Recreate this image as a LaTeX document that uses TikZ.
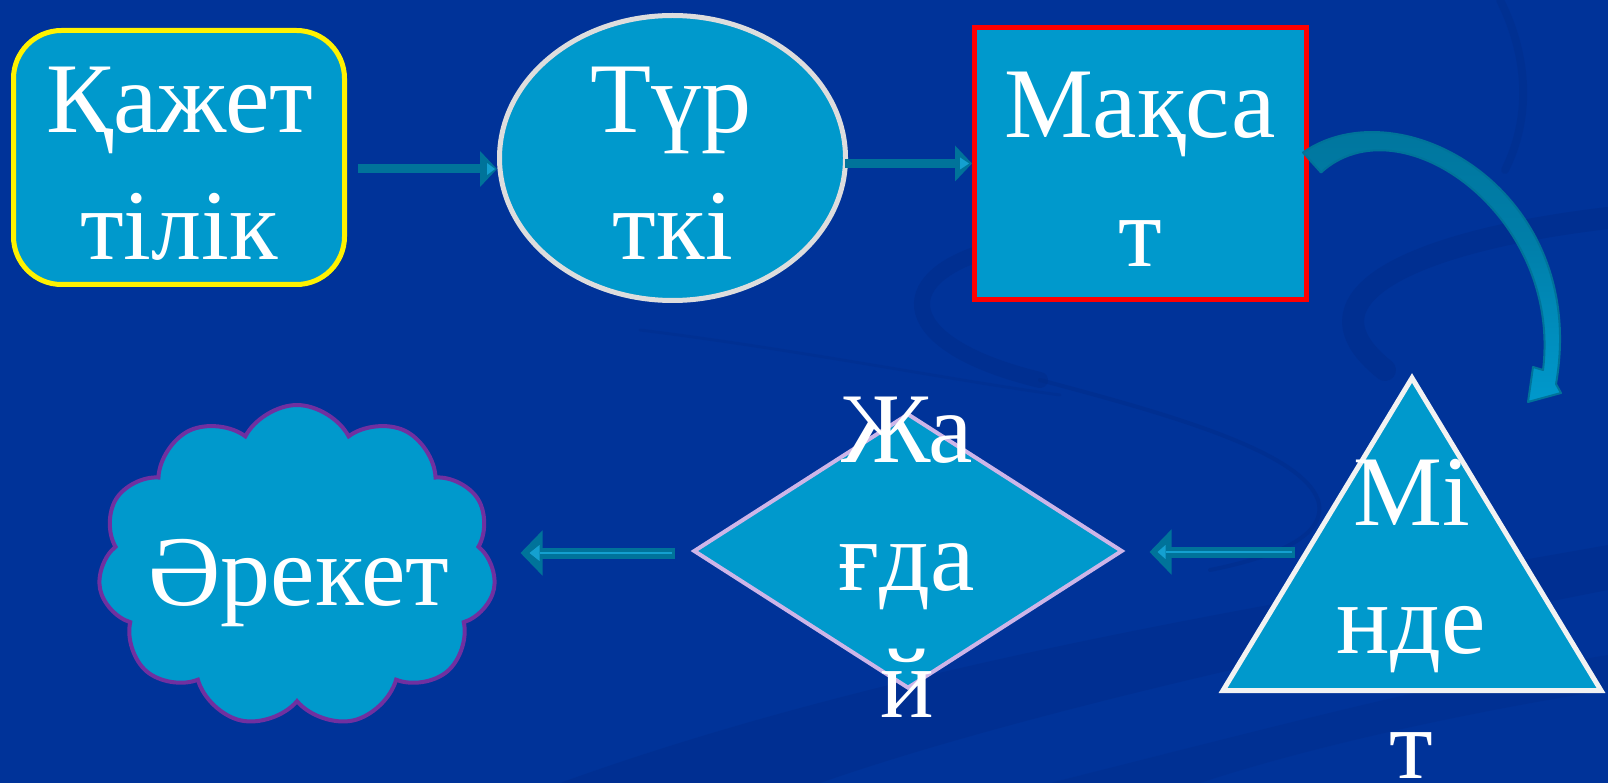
\documentclass[tikz,border=0pt]{standalone}
\usepackage{fontspec}
\setmainfont{Liberation Serif}
\usetikzlibrary{shapes.geometric,shapes.symbols,arrows.meta,calc}
\definecolor{bg}{HTML}{003399}
\definecolor{shp}{HTML}{0099CC}
\definecolor{arr}{HTML}{00739A}
\definecolor{arrl}{HTML}{14A0D0}
\definecolor{swl}{HTML}{002A85}
\definecolor{lav}{HTML}{CDB5E8}
\definecolor{purp}{HTML}{7030A0}
\definecolor{lgray}{HTML}{DDDDDD}
\definecolor{offwhite}{HTML}{F2F2F2}
\begin{document}
\begin{tikzpicture}[x=1pt,y=-1pt,
  shapebox/.style={fill=shp, inner sep=0pt},
  lbl/.style={text=white, font=\fontsize{100}{100}\selectfont, inner sep=0pt, anchor=base},
  swirl/.style={draw=swl, opacity=0.4, line cap=round},
  rightarrow/.style={draw=arr, line width=9pt, -{Triangle[length=17pt,width=35pt]}},
  leftarrow/.style={draw=arr, line width=11pt, -{Triangle[length=22pt,width=44pt]}},
]
\fill[bg] (0,0) rectangle (1608,783);
\useasboundingbox (0,0) rectangle (1608,783);

% background swirls
\fill[swl, opacity=0.35] (560,783) .. controls (900,660) and (1300,600) .. (1608,545) -- (1608,590) .. controls (1300,650) and (1000,720) .. (820,783) -- cycle;
\fill[swl, opacity=0.25] (1050,783) .. controls (1300,720) and (1450,680) .. (1608,655) -- (1608,690) .. controls (1450,715) and (1300,750) .. (1200,783) -- cycle;
\draw[swirl, line width=16pt] (990,250) .. controls (890,278) and (895,345) .. (1040,380);
\draw[swirl, line width=4pt] (1040,380) .. controls (1160,412) and (1300,450) .. (1318,500) .. controls (1330,540) and (1260,560) .. (1210,570);
\draw[swirl, line width=3pt, opacity=0.25] (640,330) .. controls (800,350) and (950,380) .. (1060,395);
\draw[swirl, line width=22pt] (1608,218) .. controls (1420,240) and (1290,295) .. (1385,370);
\draw[swirl, line width=8pt, opacity=0.3] (1500,0) .. controls (1530,60) and (1530,120) .. (1505,170);

% shapes
\node[shapebox, draw=yellow, line width=5pt, rounded corners=48pt,
      minimum width=331pt, minimum height=254pt] (need) at (179,157.5) {};
\node[shapebox, ellipse, draw=lgray, line width=5pt,
      minimum width=346pt, minimum height=285pt] (kind) at (672.5,158) {};
\node[shapebox, rectangle, draw=red, line width=5pt,
      minimum width=332pt, minimum height=272pt] (goal) at (1140.5,163.5) {};
\node[shapebox, diamond, draw=lav, line width=4pt, aspect=1.55,
      minimum width=429pt, minimum height=275pt] (sit) at (908,551) {};
\node[shapebox, cloud, cloud puffs=11, cloud puff arc=125, aspect=1.22,
      draw=purp, line width=4pt, minimum width=398pt, minimum height=322pt] (act) at (297,566) {};
\coordinate (tA) at (1412,378);
\coordinate (tB) at (1601,690.5);
\coordinate (tC) at (1223,690.5);
\path[shapebox, draw=offwhite, line width=5pt] (tA) -- (tB) -- (tC) -- cycle;
\coordinate (tL) at ($(tA)!0.556!(tC)$);

% labels
\node[lbl] (l1a) at (180,133) {Қажет};
\node[lbl] (l1b) at (179,260) {тілік};
\node[lbl] (l2a) at (671,133) {Түр};
\node[lbl] (l2b) at (673,260) {ткі};
\node[lbl] (l3a) at (1140,138) {Мақса};
\node[lbl] (l3b) at (1140,267) {т};
\node[lbl] (l4a) at (1412,525) {Мі};
\node[lbl] (l4b) at (1411,653) {нде};
\node[lbl] (l4c) at (1411,778) {т};
\node[lbl] (l5a) at (907,462) {Жа};
\node[lbl] (l5b) at (907,590) {ғда};
\node[lbl] (l5c) at (907,717) {й};
\node[lbl] (l6a) at (299,605) {Әрекет};

% straight connectors
\coordinate (a1s) at ($(need.east)+(11,11.5)$);
\coordinate (a1e) at (kind.west |- a1s);
\draw[rightarrow] (a1s) -- (a1e);
\fill[arrl] ($(a1e)+(-10,-6)$) -- ($(a1e)+(-2,0)$) -- ($(a1e)+(-10,6)$) -- cycle;

\coordinate (a2s) at ($(kind.east)+(-3,5.5)$);
\coordinate (a2e) at (goal.west);
\draw[rightarrow] (a2s) -- (a2e);
\fill[arrl] ($(a2e)+(-12,-6)$) -- ($(a2e)+(-3,0)$) -- ($(a2e)+(-12,6)$) -- cycle;

\coordinate (a3s) at ($(tL)+(-12,0)$);
\coordinate (a3e) at ($(sit.east)+(25,1)$);
\draw[leftarrow] (a3s |- a3e) -- (a3e);
\fill[arrl] ($(a3e)+(8,0)$) -- ($(a3e)+(16,-7)$) -- ($(a3e)+(16,7)$) -- cycle;
\draw[arrl, line width=2pt] ($(a3e)+(16,0)$) -- ($(a3s |- a3e)+(-3,0)$);

\coordinate (a4s) at ($(sit.west)+(-17,2)$);
\coordinate (a4e) at ($(a4s)+(-154,0)$);
\draw[leftarrow] (a4s) -- (a4e);
\fill[arrl] ($(a4e)+(9,0)$) -- ($(a4e)+(19,-8)$) -- ($(a4e)+(19,8)$) -- cycle;
\draw[arrl, line width=2pt] ($(a4e)+(19,0)$) -- ($(a4s)+(-3,0)$);

% curved connector from goal to triangle
\coordinate (c0) at ($(goal.east)+(-6,-11)$);
\coordinate (c1) at ($(goal.east)+(12,9)$);
\path[draw=arr, line width=2pt, line join=round, top color=arr, bottom color=shp, middle color=arr!70!shp]
  (c0) .. controls (1400,85) and (1590,190) .. (1556,384)
  -- (1561,393) -- (1528,402) -- (1533,367) -- (1543,370)
  .. controls (1562,215) and (1400,100) .. (c1) -- cycle;
\end{tikzpicture}
\end{document}
